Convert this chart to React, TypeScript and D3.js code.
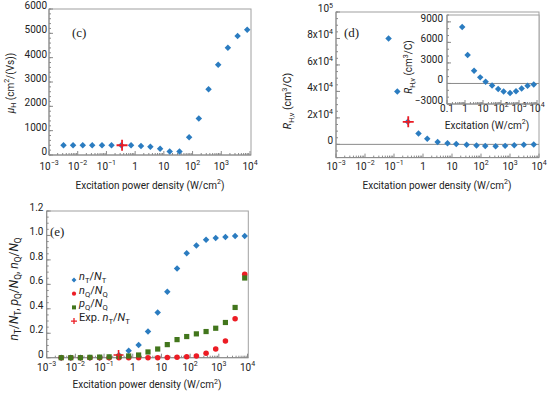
import React from "react";
import * as d3 from "d3";

// excitation power densities (W/cm2) shared by panels (c) and (e)
const powerGrid = [0.0032, 0.0069, 0.015, 0.032, 0.07, 0.15, 0.33, 0.72, 1.6, 3.4, 7.4, 16, 35, 76, 165, 360, 780, 1700, 3700, 8000];
// (c) Hall mobility
const mobility = [400, 400, 400, 400, 400, 400, 400, 400, 370, 340, 260, 140, 140, 730, 1500, 2700, 3710, 4410, 4890, 5150];
// (d) Hall coefficient
const rhPower = [0.065, 0.13, 0.3, 0.7, 1.4, 3.2, 7, 14, 32, 70, 140, 320, 680, 1400, 3000, 6600];
const rhValue = [80000, 40000, 17000, 8240, 4170, 1840, 890, 250, -300, -800, -1190, -1390, -1140, -750, -350, -150];
// (e) occupation fractions
const nT = [0, 0, 0, 0, 0, 0.001, 0.02, 0.057, 0.104, 0.214, 0.37, 0.54, 0.73, 0.855, 0.918, 0.965, 0.98, 0.988, 0.995, 0.995];
const nQ = [0, 0, 0, 0, 0, 0, 0, 0, 0, 0, 0, 0.001, 0.003, 0.008, 0.014, 0.036, 0.071, 0.137, 0.318, 0.682];
const pQ = [0, 0, 0, 0.003, 0.005, 0.007, 0.01, 0.014, 0.022, 0.047, 0.071, 0.107, 0.148, 0.173, 0.195, 0.214, 0.241, 0.288, 0.411, 0.652];
// experimental points
const expC = { x: 0.35, y: 400 };
const expD = { x: 0.31, y: 17000 };
const expE = { x: 0.32, y: 0.022 };

const decades = [-3, -2, -1, 0, 1, 2, 3, 4];
const insetDecades = [-1, 0, 1, 2, 3, 4];
const ticksC = [0, 1000, 2000, 3000, 4000, 5000, 6000];
const ticksD = [0, 20000, 40000, 60000, 80000, 100000];
const ticksInset = [-3000, 0, 3000, 6000, 9000];
const ticksE = [0, 0.2, 0.4, 0.6, 0.8, 1.0, 1.2];

const FONT = "Roboto, sans-serif";
const BLUE = "#2b7cc0";
const RED = "#ec1c24";
const GREEN = "#42761c";
const AXIS = "#8a8a8a";
const TXT = "#222";

type Seg = { t: string; i?: boolean; sub?: boolean; sup?: boolean };

const rich = (segs: Seg[], fs: number) => {
  let shift = 0;
  return segs.map((s, k) => {
    const target = s.sub ? fs * 0.28 : s.sup ? -fs * 0.42 : 0;
    const dy = target - shift;
    shift = target;
    return (
      <tspan key={k} dy={dy} fontStyle={s.i ? "italic" : undefined} fontSize={s.sub || s.sup ? fs * 0.7 : fs}>
        {s.t}
      </tspan>
    );
  });
};

const powLabel = (d: number): Seg[] => {
  if (d === 0) return [{ t: "1" }];
  if (d === 1) return [{ t: "10" }];
  return [{ t: "10" }, { t: d < 0 ? "\u2212" + -d : String(d), sup: true }];
};

const diamond = d3.symbol().type(d3.symbolSquare).size(21)();
const circle = d3.symbol().type(d3.symbolCircle).size(24)();
const square = d3.symbol().type(d3.symbolSquare).size(27)();
const cross = (r: number) => `M${-r},0H${r}M0,${-r}V${r}`;

type Box = { l: number; r: number; t: number; b: number };

const Frame = ({ box, x, decs, labelY, fmt }: { box: Box; x: any; decs: number[]; labelY: number; fmt?: (d: number) => Seg[] }) => {
  const minors: number[] = [];
  decs.slice(0, -1).forEach((d) => {
    for (let m = 2; m <= 9; m++) minors.push(m * Math.pow(10, d));
  });
  return (
    <g>
      <rect x={box.l} y={box.t} width={box.r - box.l} height={box.b - box.t} fill="none" stroke="#a0a0a0" strokeWidth={1} />
      {minors.map((v, i) => (
        <line key={"m" + i} x1={x(v)} x2={x(v)} y1={box.b} y2={box.b - 2} stroke={AXIS} />
      ))}
      {decs.map((d) => (
        <g key={d}>
          <line x1={x(Math.pow(10, d))} x2={x(Math.pow(10, d))} y1={box.b} y2={box.b - 4} stroke={AXIS} />
          <text x={x(Math.pow(10, d))} y={labelY} textAnchor="middle" fontSize={10} fill={TXT}>
            {rich(fmt ? fmt(d) : powLabel(d), 10)}
          </text>
        </g>
      ))}
      <line x1={box.l} x2={box.l} y1={box.t} y2={box.b} stroke={AXIS} />
      <line x1={box.l} x2={box.r} y1={box.b} y2={box.b} stroke={AXIS} />
    </g>
  );
};

const YTicks = ({ box, y, major, minorStep, labelX, fmt }: { box: Box; y: any; major: number[]; minorStep: number; labelX: number; fmt: (v: number) => Seg[] }) => {
  const [lo, hi] = y.domain();
  const minors = d3.range(Math.ceil(lo / minorStep) * minorStep, hi + minorStep / 2, minorStep);
  return (
    <g>
      {minors.map((v, i) => (
        <line key={"m" + i} x1={box.l} x2={box.l + 2} y1={y(v)} y2={y(v)} stroke={AXIS} />
      ))}
      {major.map((v) => (
        <g key={v}>
          <line x1={box.l} x2={box.l + 4} y1={y(v)} y2={y(v)} stroke={AXIS} />
          <text x={labelX} y={y(v)} dy="0.35em" textAnchor="end" fontSize={10} fill={TXT}>
            {rich(fmt(v), 10)}
          </text>
        </g>
      ))}
    </g>
  );
};

const plain = (v: number): Seg[] => [{ t: String(v).replace("-", "\u2212") }];
const fixed1 = (v: number): Seg[] => [{ t: v === 0 ? "0" : v.toFixed(1) }];
const sci = (v: number): Seg[] => {
  if (v === 0) return [{ t: "0" }];
  if (v === 100000) return [{ t: "10" }, { t: "5", sup: true }];
  return [{ t: `${v / 10000}x10` }, { t: "4", sup: true }];
};

const xTitle: Seg[] = [{ t: "Excitation power density (W/cm" }, { t: "2", sup: true }, { t: ")" }];
const rhTitle: Seg[] = [{ t: "R", i: true }, { t: "H,v", sub: true }, { t: " (cm" }, { t: "3", sup: true }, { t: "/C)" }];

const App = () => {
  // panel (c)
  const boxC = { l: 49, r: 251, t: 9, b: 155 };
  const xC = d3.scaleLog().domain([1e-3, 1e4]).range([boxC.l, 250]);
  const yC = d3.scaleLinear().domain([0, 6000]).range([boxC.b, boxC.t]);

  // panel (d)
  const boxD = { l: 336, r: 539, t: 12, b: 157.6 };
  const xD = d3.scaleLog().domain([1e-3, 1e4]).range([boxD.l, boxD.r]);
  const yD = d3.scaleLinear().domain([-10000, 100000]).range([boxD.b, boxD.t]);
  const boxI = { l: 447, r: 539, t: 15, b: 104 };
  const xI = d3.scaleLog().domain([0.1, 1e4]).range([boxI.l, 537]);
  const yI = d3.scaleLinear().domain([-3000, 10000]).range([boxI.b, boxI.t]);
  const insetP = rhPower.slice(3);
  const insetV = rhValue.slice(3);

  // panel (e)
  const boxE = { l: 46.7, r: 248.3, t: 211, b: 357.7 };
  const xE = d3.scaleLog().domain([1e-3, 1e4]).range([boxE.l, 247.5]);
  const yE = d3.scaleLinear().domain([0, 1.2]).range([boxE.b, boxE.t]);

  const legend = [
    { kind: "d", color: BLUE, label: [{ t: "n", i: true }, { t: "T", sub: true }, { t: "/" }, { t: "N", i: true }, { t: "T", sub: true }] },
    { kind: "c", color: RED, label: [{ t: "n", i: true }, { t: "Q", sub: true }, { t: "/" }, { t: "N", i: true }, { t: "Q", sub: true }] },
    { kind: "s", color: GREEN, label: [{ t: "p", i: true }, { t: "Q", sub: true }, { t: "/" }, { t: "N", i: true }, { t: "Q", sub: true }] },
    { kind: "x", color: RED, label: [{ t: "Exp. " }, { t: "n", i: true }, { t: "T", sub: true }, { t: "/" }, { t: "N", i: true }, { t: "T", sub: true }] },
  ];

  return (
    <div>
      <svg width={550} height={396} style={{ position: "absolute", left: 0, top: 0, background: "white" }} fontFamily={FONT}>
        {/* (c) */}
        <Frame box={boxC} x={xC} decs={decades} labelY={169.5} />
        <YTicks box={boxC} y={yC} major={ticksC} minorStep={200} labelX={47} fmt={plain} />
        {powerGrid.map((p, i) => (
          <path key={i} d={diamond} fill={BLUE} transform={`translate(${xC(p)},${yC(mobility[i])}) rotate(45)`} />
        ))}
        <path d={cross(5.5)} stroke={RED} strokeWidth={1.8} transform={`translate(${xC(expC.x)},${yC(expC.y)})`} />
        <text x={72} y={37} fontFamily="'Liberation Serif', serif" fontSize={13} fill={TXT}>(c)</text>
        <text x={150} y={188.5} textAnchor="middle" fontSize={10} fill={TXT}>{rich(xTitle, 10)}</text>
        <text transform="translate(13.5,83) rotate(-90)" textAnchor="middle" fontSize={10} fill={TXT}>
          {rich([{ t: "\u03bc", i: true }, { t: "H", sub: true }, { t: " (cm" }, { t: "2", sup: true }, { t: "/(Vs))" }], 10)}
        </text>

        {/* (d) */}
        <Frame box={boxD} x={xD} decs={decades} labelY={169.5} />
        <YTicks box={boxD} y={yD} major={ticksD} minorStep={5000} labelX={333} fmt={sci} />
        <line x1={boxD.l} x2={boxD.r} y1={yD(0)} y2={yD(0)} stroke={AXIS} />
        {rhPower.map((p, i) => (
          <path key={i} d={diamond} fill={BLUE} transform={`translate(${xD(p)},${yD(rhValue[i])}) rotate(45)`} />
        ))}
        <path d={cross(5.5)} stroke={RED} strokeWidth={1.8} transform={`translate(${xD(expD.x)},${yD(expD.y)})`} />
        <text x={344} y={37} fontFamily="'Liberation Serif', serif" fontSize={13} fill={TXT}>(d)</text>
        <text x={437} y={188.5} textAnchor="middle" fontSize={10} fill={TXT}>{rich(xTitle, 10)}</text>
        <text transform="translate(291,101) rotate(-90)" textAnchor="middle" fontSize={10.5} fill={TXT}>
          {rich(rhTitle, 10.5)}
        </text>

        {/* inset */}
        <rect x={boxI.l} y={boxI.t} width={boxI.r - boxI.l} height={boxI.b - boxI.t} fill="white" />
        <Frame box={boxI} x={xI} decs={insetDecades} labelY={111.5} fmt={(d) => (d === -1 ? [{ t: "0.1" }] : powLabel(d))} />
        <YTicks box={boxI} y={yI} major={ticksInset} minorStep={1000} labelX={443} fmt={plain} />
        <line x1={boxI.l} x2={boxI.r} y1={yI(0)} y2={yI(0)} stroke={AXIS} />
        {insetP.map((p, i) => (
          <path key={i} d={diamond} fill={BLUE} transform={`translate(${xI(p)},${yI(insetV[i])}) rotate(45)`} />
        ))}
        <text x={487} y={128.5} textAnchor="middle" fontSize={10} fill={TXT}>
          {rich([{ t: "Excitation (W/cm" }, { t: "2", sup: true }, { t: ")" }], 10)}
        </text>
        <text transform="translate(412,67) rotate(-90)" textAnchor="middle" fontSize={10} fill={TXT}>
          {rich(rhTitle, 10)}
        </text>

        {/* (e) */}
        <Frame box={boxE} x={xE} decs={decades} labelY={370.5} />
        <YTicks box={boxE} y={yE} major={ticksE} minorStep={0.05} labelX={43.5} fmt={fixed1} />
        {powerGrid.map((p, i) => (
          <path key={"b" + i} d={diamond} fill={BLUE} transform={`translate(${xE(p)},${yE(nT[i])}) rotate(45)`} />
        ))}
        {powerGrid.map((p, i) => (
          <path key={"r" + i} d={circle} fill={RED} transform={`translate(${xE(p)},${yE(nQ[i])})`} />
        ))}
        {powerGrid.map((p, i) => (
          <path key={"g" + i} d={square} fill={GREEN} transform={`translate(${xE(p)},${yE(pQ[i])})`} />
        ))}
        <path d={cross(5)} stroke={RED} strokeWidth={1.6} transform={`translate(${xE(expE.x)},${yE(expE.y)})`} />
        <text x={50} y={236} fontFamily="'Liberation Serif', serif" fontSize={13} fill={TXT}>(e)</text>
        <text x={147} y={388} textAnchor="middle" fontSize={10} fill={TXT}>{rich(xTitle, 10)}</text>
        <text transform="translate(18,289) rotate(-90)" textAnchor="middle" fontSize={12} fill={TXT}>
          {rich(
            [
              { t: "n", i: true }, { t: "T", sub: true }, { t: "/" }, { t: "N", i: true }, { t: "T", sub: true }, { t: ", " },
              { t: "p", i: true }, { t: "Q", sub: true }, { t: "/" }, { t: "N", i: true }, { t: "Q", sub: true }, { t: ", " },
              { t: "n", i: true }, { t: "Q", sub: true }, { t: "/" }, { t: "N", i: true }, { t: "Q", sub: true },
            ] as Seg[],
            12
          )}
        </text>
        {legend.map((it, i) => {
          const ly = 280 + i * 13.7;
          const mark =
            it.kind === "d" ? <path d={d3.symbol().type(d3.symbolSquare).size(12)()} fill={it.color} transform={`translate(74,${ly}) rotate(45)`} />
            : it.kind === "c" ? <path d={d3.symbol().type(d3.symbolCircle).size(14)()} fill={it.color} transform={`translate(74,${ly})`} />
            : it.kind === "s" ? <path d={d3.symbol().type(d3.symbolSquare).size(16)()} fill={it.color} transform={`translate(74,${ly})`} />
            : <path d={cross(3)} stroke={it.color} strokeWidth={1.3} transform={`translate(74,${ly})`} />;
          return (
            <g key={i}>
              {mark}
              <text x={79} y={ly} dy="0.35em" fontSize={11} fill={TXT}>{rich(it.label as Seg[], 11)}</text>
            </g>
          );
        })}
      </svg>
    </div>
  );
};

export default App;
